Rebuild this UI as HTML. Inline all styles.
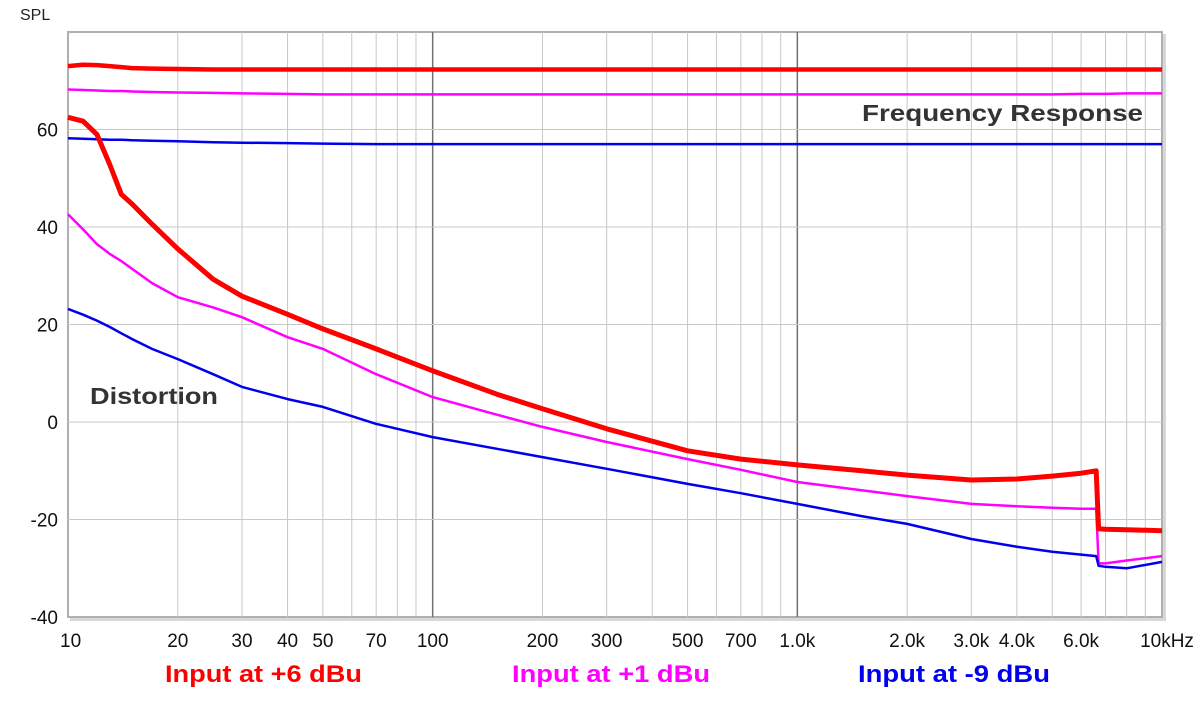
<!DOCTYPE html>
<html><head><meta charset="utf-8"><style>
body{margin:0;background:#fff;}
svg text{font-family:"Liberation Sans",Arial,sans-serif;}
</style></head><body>
<svg id="chart" width="1200" height="702" viewBox="0 0 1200 702">
<rect x="70" y="34" width="1096" height="587" fill="#d8d8d8"/>
<rect x="68" y="32" width="1094" height="585" fill="#fff" stroke="#b0b0b0" stroke-width="2"/>
<g id="grid"></g>
<g id="series"></g>
<g id="labels"></g>
<text x="20" y="20" font-size="16" fill="#222">SPL</text>
<text x="862" y="121" font-size="23" font-weight="bold" fill="#333" textLength="281" lengthAdjust="spacingAndGlyphs">Frequency Response</text>
<text x="90" y="404" font-size="23" font-weight="bold" fill="#333" textLength="128" lengthAdjust="spacingAndGlyphs">Distortion</text>
<text x="165" y="682" font-size="24" font-weight="bold" fill="#ff0000" textLength="197" lengthAdjust="spacingAndGlyphs">Input at +6 dBu</text>
<text x="512" y="682" font-size="24" font-weight="bold" fill="#ff00ff" textLength="198" lengthAdjust="spacingAndGlyphs">Input at +1 dBu</text>
<text x="858" y="682" font-size="24" font-weight="bold" fill="#0000ee" textLength="192" lengthAdjust="spacingAndGlyphs">Input at -9 dBu</text>
</svg>
<script>
const yTicks=[60,40,20,0,-20,-40];
const xTickVals=[10,20,30,40,50,70,100,200,300,500,700,1000,2000,3000,4000,6000,10000];
const xTickLabels=["10","20","30","40","50","70","100","200","300","500","700","1.0k","2.0k","3.0k","4.0k","6.0k","10kHz"];
const freqs=[10,11,12,13,14,15,17,20,25,30,40,50,70,100,150,200,300,500,700,1000,1500,2000,3000,4000,5000,6000,6600,6700,7000,8000,10000];
const distRed=[62.5,61.7,59,52.9,46.7,44.7,40.6,35.5,29.3,25.8,22.1,19.1,15,10.5,5.7,2.7,-1.4,-5.9,-7.6,-8.8,-10,-10.9,-11.9,-11.7,-11.1,-10.5,-10,-21.9,-22,-22.1,-22.3];
const distMag=[42.6,39.5,36.5,34.5,33,31.4,28.5,25.6,23.5,21.5,17.4,15,9.8,5.1,1.5,-1,-4.1,-7.6,-9.8,-12.3,-14,-15.2,-16.8,-17.3,-17.6,-17.8,-17.8,-29,-29,-28.4,-27.5];
const distBlue=[23.2,22,20.8,19.5,18.2,17,15,12.9,9.8,7.2,4.7,3.1,-0.4,-3.1,-5.5,-7.2,-9.6,-12.7,-14.6,-16.8,-19.3,-20.9,-24,-25.6,-26.6,-27.2,-27.5,-29.5,-29.7,-30,-28.7];
const frRed=[73,73.3,73.2,73,72.8,72.6,72.5,72.4,72.3,72.3,72.3,72.3,72.3,72.3,72.3,72.3,72.3,72.3,72.3,72.3,72.3,72.3,72.3,72.3,72.3,72.3,72.3,72.3,72.3,72.3,72.3];
const frMag=[68.2,68.1,68,67.9,67.9,67.8,67.7,67.6,67.5,67.4,67.3,67.2,67.2,67.2,67.2,67.2,67.2,67.2,67.2,67.2,67.2,67.2,67.2,67.2,67.2,67.3,67.3,67.3,67.3,67.4,67.4];
const frBlue=[58.2,58.1,58,57.9,57.9,57.8,57.7,57.6,57.4,57.3,57.2,57.1,57,57,57,57,57,57,57,57,57,57,57,57,57,57,57,57,57,57,57];

const X0=68,X1=1162,Y0=32,Y1=617;
const xs=f=>X0+(Math.log10(f)-1)/3*(X1-X0);
const ys=v=>Y1-(v+40)/120*(Y1-Y0);
const NS="http://www.w3.org/2000/svg";
function mk(t,a,p){const e=document.createElementNS(NS,t);for(const k in a)e.setAttribute(k,a[k]);p.appendChild(e);return e;}
const grid=document.getElementById('grid'),series=document.getElementById('series'),labels=document.getElementById('labels');
for(let d=1;d<=3;d++)for(let m=1;m<10;m++){const f=Math.pow(10,d)*m;if(f>=10000&&m>1)break;if(f===10)continue;const x=xs(f);
const l=mk('line',{x1:x,x2:x,y1:Y0,y2:Y1,stroke:m===1?'#707070':'#c8c8c8','stroke-width':m===1?1.5:1},grid);

}
for(let v=-20;v<80;v+=20){const l=mk('line',{x1:X0,x2:X1,y1:ys(v),y2:ys(v),stroke:'#c8c8c8','stroke-width':1},grid);

}
yTicks.forEach(v=>{const t=mk('text',{x:58,y:ys(v)+7,'font-size':19,fill:'#111','text-anchor':'end'},labels);t.textContent=v;

});
xTickVals.forEach((f,i)=>{let anc='middle';if(i===0)anc='start';
let x=xs(f);if(i===0)x=X0-8;if(i===xTickVals.length-1)x=X1+5;
const t=mk('text',{x:x,y:647,'font-size':19,fill:'#111','text-anchor':anc},labels);t.textContent=xTickLabels[i];

});
function line(arr,col,w,name){const d=arr.map((v,i)=>(i?'L':'M')+xs(freqs[i]).toFixed(1)+' '+ys(v).toFixed(1)).join(' ');
const p=mk('path',{d:d,fill:'none',stroke:col,'stroke-width':w,'stroke-linejoin':'round'},series);

}
line(frRed,'#ff0000',4.5,'fr-line-plus6');
line(frMag,'#ff00ff',2.5,'fr-line-plus1');
line(frBlue,'#0000ee',2.5,'fr-line-minus9');
line(distMag,'#ff00ff',2.5,'dist-line-plus1');
line(distBlue,'#0000ee',2.5,'dist-line-minus9');
line(distRed,'#ff0000',5,'dist-line-plus6');
</script>
</body></html>
